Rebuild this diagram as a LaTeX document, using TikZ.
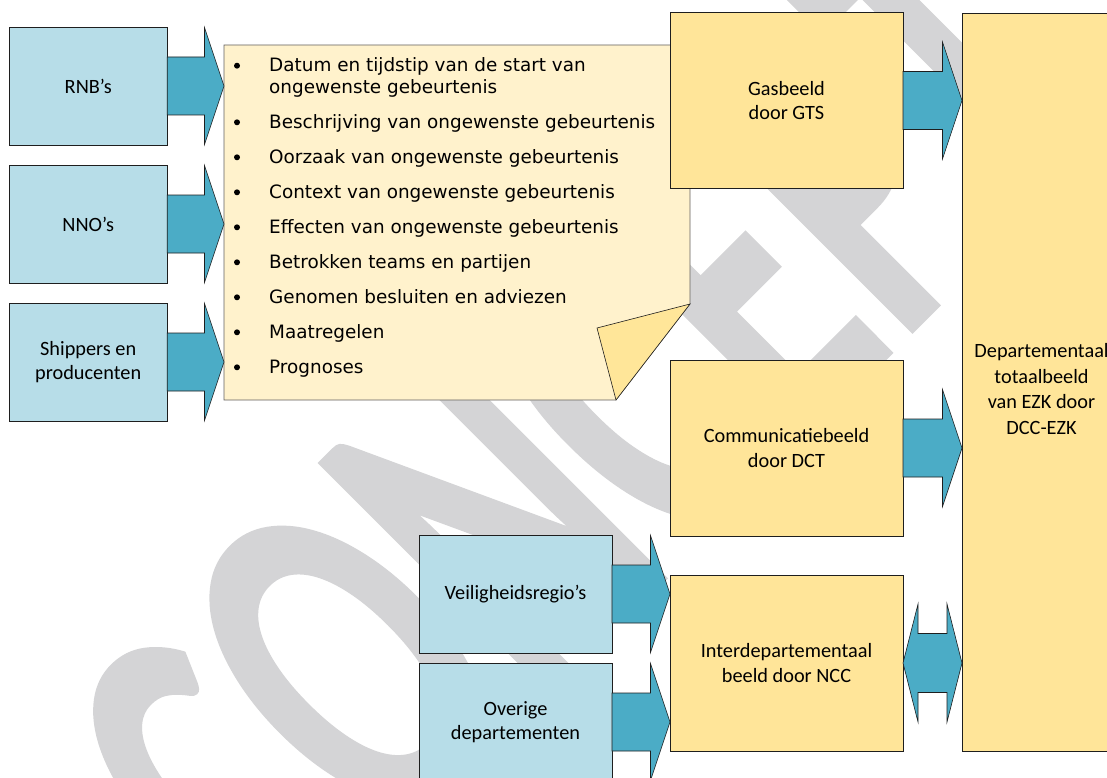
\documentclass[tikz,border=0pt]{standalone}
\usepackage{fontspec}
\setmainfont{Carlito}
\newfontfamily\verd{DejaVu Sans}
\newfontfamily\calb{Carlito}
\newfontfamily\wmfont[FakeBold=0.35]{Carlito}
\usetikzlibrary{calc}
\definecolor{lblue}{RGB}{183,221,232}
\definecolor{arrowc}{RGB}{75,172,198}
\definecolor{notec}{RGB}{255,242,204}
\definecolor{foldc}{RGB}{255,230,153}
\definecolor{goldc}{RGB}{255,229,153}
\definecolor{wmc}{RGB}{212,212,214}
\definecolor{linec}{RGB}{30,30,30}
\newcommand\rarrow[2]{\draw[barrow] let \p1=(#1), \p2=(#2) in
  (\x1,\y1+29pt) -- (\x2-19.5pt,\y1+29pt) -- (\x2-19.5pt,\y1+58.5pt) -- (\x2,\y1)
  -- (\x2-19.5pt,\y1-58.5pt) -- (\x2-19.5pt,\y1-29pt) -- (\x1,\y1-29pt) -- cycle;}
\begin{document}
\begin{tikzpicture}[x=1pt,y=-1pt,
  box/.style={draw=linec, line width=0.8pt, inner sep=0pt, outer sep=0pt, align=center,
    font=\calb\fontsize{20.3}{24.5}\selectfont, text=black},
  bluebox/.style={box, fill=lblue, minimum width=158pt, minimum height=118pt},
  goldbox/.style={box, fill=goldc, minimum width=233pt, minimum height=176pt},
  barrow/.style={draw=linec, line width=0.6pt, fill=arrowc, line join=miter},
  itemtext/.style={anchor=base west, inner sep=0pt, font=\verd\fontsize{18.4}{22}\selectfont},
  bul/.style={fill=black, circle, inner sep=0pt, minimum size=6pt},
  notestyle/.style={draw=linec!70, line width=0.6pt, fill=notec},
  foldstyle/.style={draw=linec, line width=0.6pt, fill=foldc, line join=miter},
  wmstyle/.style={text=wmc, inner sep=0pt, font=\wmfont\bfseries\fontsize{306}{306}\selectfont}]
\useasboundingbox (0,0) rectangle (1107,778);
\clip (0,0) rectangle (1107,778);
\fill[white] (0,0) rectangle (1107,778);
% watermark
\node[wmstyle, rotate=45, yscale=1.65, anchor=base west] (wm) at (278,967) {CONCEPT};
% note
\node[inner sep=0pt, outer sep=0pt, minimum width=466pt, minimum height=355pt] (note) at (457,222.5) {};
\draw[notestyle] (note.north west) -- (note.north east) -- ([yshift=-259pt]note.north east)
  -- ([xshift=-74pt]note.south east) -- (note.south west) -- cycle;
\draw[foldstyle] ([yshift=-259pt]note.north east) -- ([xshift=-93pt,yshift=-283pt]note.north east)
  -- ([xshift=-74pt]note.south east) -- cycle;
\foreach \n/\yb/\t in {i1/71.7/Datum en tijdstip van de start van,
                     i3/128.3/Beschrijving van ongewenste gebeurtenis,
                     i4/163.3/Oorzaak van ongewenste gebeurtenis,
                     i5/198.3/Context van ongewenste gebeurtenis,
                     i6/233.3/Effecten van ongewenste gebeurtenis,
                     i7/268.3/Betrokken teams en partijen,
                     i8/303.3/Genomen besluiten en adviezen,
                     i9/338.3/Maatregelen,
                     i10/373.3/Prognoses}{
  \node[itemtext] (\n) at (269,\yb) {\t};
  \node[bul] (b\n) at (237,\yb-6) {};
}
\node[itemtext] (i2) at (269,93.7) {ongewenste gebeurtenis};
% boxes
\node[bluebox] (rnb) at (88.2,86) {RNB’s};
\node[bluebox] (nno) at (88.2,224) {NNO’s};
\node[bluebox] (ship) at (88.2,362) {Shippers en\\producenten};
\node[bluebox, minimum width=193pt] (veil) at (515.5,594) {Veiligheidsregio’s};
\node[bluebox, minimum width=193pt] (over) at (515.5,722) {Overige\\departementen};
\node[goldbox] (gas) at (786.5,100.5) {Gasbeeld\\door GTS};
\node[goldbox] (comm) at (786.5,448) {Communicatiebeeld\\door DCT};
\node[goldbox] (inter) at (786.5,663) {Interdepartementaal\\beeld door NCC};
\node[goldbox, minimum width=159pt, minimum height=738pt] (big) at (1041.5,382) {};
\node[align=center, inner sep=0pt, font=\calb\fontsize{20.3}{25.5}\selectfont] (bigtxt) at (1041.5,389)
  {Departementaal\\totaalbeeld\\van EZK door\\DCC-EZK};
% arrows
\rarrow{rnb.east}{note.west}
\rarrow{nno.east}{note.west}
\rarrow{ship.east}{note.west}
\rarrow{gas.east}{big.west}
\rarrow{comm.east}{big.west}
\rarrow{veil.east}{inter.west}
\rarrow{over.east}{inter.west}
\draw[barrow] let \p1=(inter.east), \p2=(big.west) in
  (\x1,\y1) -- (\x1+15pt,\y1+59pt) -- (\x1+15pt,\y1+29.5pt) -- (\x2-15pt,\y1+29.5pt)
  -- (\x2-15pt,\y1+59pt) -- (\x2,\y1) -- (\x2-15pt,\y1-59pt) -- (\x2-15pt,\y1-29.5pt)
  -- (\x1+15pt,\y1-29.5pt) -- (\x1+15pt,\y1-59pt) -- cycle;
\end{tikzpicture}
\end{document}
